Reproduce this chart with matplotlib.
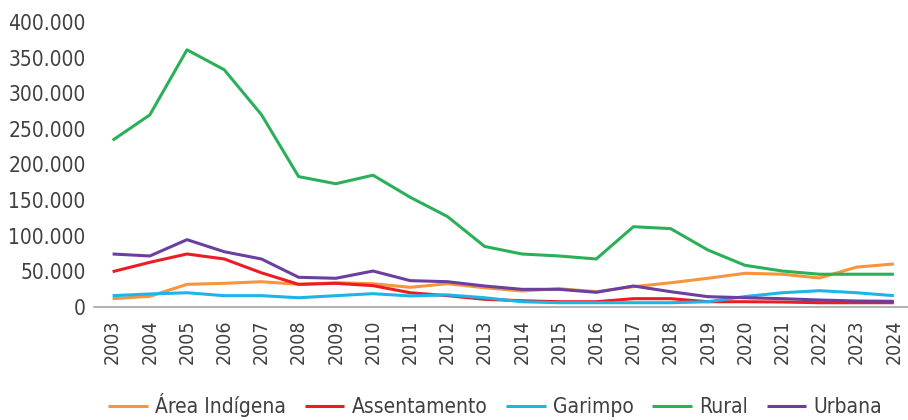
import matplotlib
matplotlib.use("Agg")
import matplotlib.pyplot as plt
from matplotlib import font_manager
from matplotlib.ticker import FuncFormatter

anos = list(range(2003, 2025))

area_indigena = [11700, 15000, 31800, 33200, 35500, 31800, 34000, 32700, 27600, 32700, 27000,
                 22500, 25700, 21500, 28500, 34000, 40300, 47300, 46000, 40700, 56000, 60400]
assentamento = [49600, 62700, 74400, 67400, 48000, 31800, 33200, 30000, 20000, 15900, 10800,
                8800, 7400, 7400, 11700, 11700, 7400, 7400, 7000, 6000, 6000, 6000]
garimpo = [15900, 18300, 20000, 15900, 15900, 13000, 15900, 18700, 15500, 17000, 13000,
           7400, 6000, 6000, 6000, 6000, 7400, 14700, 20000, 22900, 20000, 15900]
rural = [234000, 269600, 361000, 333000, 270000, 183000, 173000, 185000, 154000, 127000, 85000,
         74400, 71600, 67400, 112700, 110000, 80000, 58500, 50500, 46000, 46000, 46000]
urbana = [74400, 71600, 94500, 77600, 67400, 41700, 40300, 50500, 37000, 35500, 29500,
          24800, 24800, 20600, 29500, 21500, 14500, 13000, 11700, 9800, 8400, 8000]

series = [
    ("Área Indígena", area_indigena, "#F7943C"),
    ("Assentamento", assentamento, "#ED1C24"),
    ("Garimpo", garimpo, "#1CB5E8"),
    ("Rural", rural, "#2BB05A"),
    ("Urbana", urbana, "#6A3FA0"),
]

# fonte condensada, se existir
nomes = {f.name for f in font_manager.fontManager.ttflist}
familias = [n for n in ["Liberation Sans Narrow", "DejaVu Sans Condensed"] if n in nomes]
plt.rcParams["font.family"] = familias + ["DejaVu Sans"]
plt.rcParams["font.stretch"] = "condensed"
plt.rcParams["text.color"] = "#404040"

fig = plt.figure(figsize=(9.08, 4.2), dpi=100)
ax = fig.add_axes([94 / 908, 113 / 420, 814 / 908, 285 / 420])

for nome, valores, cor in series:
    ax.plot(anos, valores, color=cor, lw=2.2, label=nome, solid_capstyle="butt")

ax.set_xlim(2002.5, 2024.38)
ax.set_ylim(0, 400000)
ax.set_yticks(range(0, 400001, 50000))
ax.yaxis.set_major_formatter(FuncFormatter(lambda v, p: f"{int(v):,}".replace(",", ".")))
ax.set_xticks(anos)
ax.set_xticklabels([str(a) for a in anos], rotation=90)

ax.tick_params(axis="both", length=0, labelsize=15, colors="#404040")
ax.tick_params(axis="x", labelsize=14, pad=9)
ax.tick_params(axis="y", pad=6)
for lado in ["top", "right", "left"]:
    ax.spines[lado].set_visible(False)
ax.spines["bottom"].set_color("#A6A6A6")
ax.spines["bottom"].set_linewidth(1.2)

ax.legend(loc="center", bbox_to_anchor=(0.493, -0.345), ncol=5, frameon=False,
          fontsize=15, handlelength=1.9, columnspacing=0.9, handletextpad=0.35)

fig.savefig("out.png", dpi=100)
